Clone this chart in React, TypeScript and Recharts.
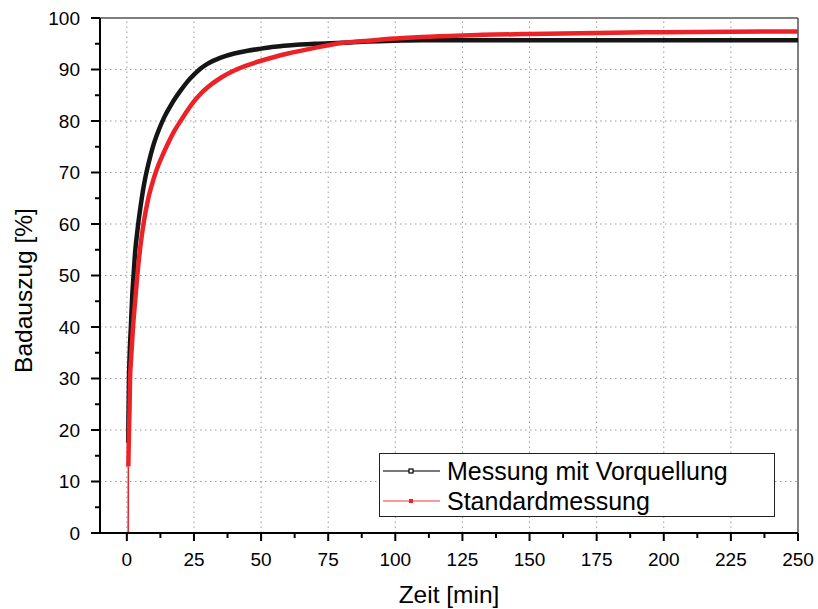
import { LineChart, Line, XAxis, YAxis, ReferenceLine, Legend, Label } from 'recharts'

// Messung mit Vorquellung (black)
const vorquellungZeit = [0.5, 0.6, 0.8, 1, 1.5, 2, 2.5, 3, 4, 5, 6, 7, 8, 10, 12, 14, 16, 18, 20, 22.5, 25, 27.5, 30, 35, 40, 45, 50, 55, 60, 70, 80, 90, 100, 110, 125, 150, 175, 200, 225, 250]
const vorquellungWert = [17.5, 22, 30, 34, 40, 46, 50, 54, 59, 63, 66.5, 69.3, 71.6, 75.5, 78.4, 80.8, 82.7, 84.4, 85.9, 87.6, 89, 90.2, 91.1, 92.3, 93.1, 93.65, 94.05, 94.4, 94.65, 95, 95.2, 95.45, 95.6, 95.7, 95.7, 95.7, 95.7, 95.7, 95.7, 95.7]

// Standardmessung (red)
const standardZeit = [0.55, 0.8, 1, 1.2, 1.6, 2.3, 3, 3.9, 5, 6.2, 8, 10, 11, 13, 15, 17.5, 20, 22.5, 25, 27.5, 30, 35, 40, 45, 50, 60, 70, 80, 90, 100, 110, 125, 150, 175, 200, 225, 250]
const standardWert = [12.9, 20, 24, 30, 34, 40, 44.5, 50, 55.5, 60, 65, 68.8, 70.4, 73, 75.3, 77.9, 80, 82, 83.8, 85.3, 86.5, 88.4, 89.8, 90.85, 91.7, 93.1, 94.2, 95.15, 95.6, 96, 96.3, 96.6, 96.9, 97.1, 97.25, 97.35, 97.4]
const standardStartZeit = [0.5, 0.55]
const standardStartWert = [0, 12.9]

const seriesNames = ['Messung mit Vorquellung', 'Standardmessung']

const xTicks = [0, 12.5, 25, 37.5, 50, 62.5, 75, 87.5, 100, 112.5, 125, 137.5, 150, 162.5, 175, 187.5, 200, 212.5, 225, 237.5, 250]
const xMajor = [0, 25, 50, 75, 100, 125, 150, 175, 200, 225, 250]
const yTicks = [0, 5, 10, 15, 20, 25, 30, 35, 40, 45, 50, 55, 60, 65, 70, 75, 80, 85, 90, 95, 100]
const xGrid = [0, 25, 50, 75, 100, 125, 150, 175, 200, 225]
const yGrid = [10, 20, 30, 40, 50, 60, 70, 80, 90]

const blackData = vorquellungZeit.map((t, i) => ({ t, v: vorquellungWert[i] }))
const redData = standardZeit.map((t, i) => ({ t, v: standardWert[i] }))
const redStart = standardStartZeit.map((t, i) => ({ t, v: standardStartWert[i] }))

const FONT = 'Liberation Sans, Arial, sans-serif'

function XTick(props: any) {
  const { x, y, payload } = props
  const major = xMajor.includes(payload.value)
  return (
    <g>
      <line x1={x} y1={y} x2={x} y2={y + (major ? 8 : 5)} stroke="#000" strokeWidth={2} />
      {major && (
        <text x={x} y={y + 33} textAnchor="middle" fontSize={19} fontFamily={FONT} fill="#000">
          {payload.value}
        </text>
      )}
    </g>
  )
}

function YTick(props: any) {
  const { x, y, payload } = props
  const major = payload.value % 10 === 0
  return (
    <g>
      <line x1={x} y1={y} x2={x - (major ? 9 : 5)} y2={y} stroke="#000" strokeWidth={2} />
      {major && (
        <text x={x - 20} y={y} dy="0.36em" textAnchor="end" fontSize={19} fontFamily={FONT} fill="#000">
          {payload.value}
        </text>
      )}
    </g>
  )
}

function LegendBox() {
  return (
    <div
      style={{
        width: 396,
        height: 64,
        boxSizing: 'border-box',
        border: '1.5px solid #222',
        background: '#fff',
        fontFamily: FONT,
        fontSize: 25,
        color: '#000',
        paddingTop: 2,
      }}
    >
      {seriesNames.map((name, i) => (
        <div key={name} style={{ display: 'flex', alignItems: 'center', height: 30 }}>
          <svg width={64} height={12} style={{ marginLeft: 3, flexShrink: 0 }}>
            {i === 0 ? (
              <>
                <line x1={0} y1={6} x2={57} y2={6} stroke="#777" strokeWidth={2} />
                <rect x={26} y={4} width={4} height={4} fill="#fff" stroke="#000" strokeWidth={1.2} />
              </>
            ) : (
              <>
                <line x1={0} y1={6} x2={57} y2={6} stroke="#f33" strokeWidth={1.2} />
                <rect x={26} y={4} width={4} height={4} fill="#e22" />
              </>
            )}
          </svg>
          <span style={{ lineHeight: '30px' }}>{name}</span>
        </div>
      ))}
    </div>
  )
}

export default function App() {
  return (
    <div style={{ position: 'absolute', left: 0, top: 0, background: '#fff' }}>
      <LineChart width={818} height={609} margin={{ top: 18, right: 20, bottom: 0, left: 0 }}>
        <XAxis
          type="number"
          dataKey="t"
          domain={[-10, 250]}
          ticks={xTicks}
          interval={0}
          allowDataOverflow
          height={76}
          tickSize={0}
          tickMargin={0}
          tickLine={false}
          axisLine={{ stroke: '#000', strokeWidth: 2 }}
          tick={<XTick />}
        >
          <Label
            content={({ viewBox }: any) => (
              <text
                x={viewBox.x + viewBox.width / 2}
                y={viewBox.y + 70}
                textAnchor="middle"
                fontSize={24.5}
                fontFamily={FONT}
                fill="#000"
              >
                Zeit [min]
              </text>
            )}
          />
        </XAxis>
        <YAxis
          type="number"
          dataKey="v"
          domain={[0, 100]}
          ticks={yTicks}
          interval={0}
          allowDataOverflow
          width={100}
          tickSize={0}
          tickMargin={0}
          tickLine={false}
          axisLine={{ stroke: '#000', strokeWidth: 2 }}
          tick={<YTick />}
        >
          <Label
            content={({ viewBox }: any) => {
              const cx = viewBox.x + 32
              const cy = viewBox.y + viewBox.height / 2 + 15
              return (
                <text
                  x={cx}
                  y={cy}
                  transform={`rotate(-90 ${cx} ${cy})`}
                  textAnchor="middle"
                  fontSize={24.5}
                  fontFamily={FONT}
                  fill="#000"
                >
                  Badauszug [%]
                </text>
              )
            }}
          />
        </YAxis>

        {xGrid.map((v) => (
          <ReferenceLine key={'gx' + v} x={v} stroke="#9a9a9a" strokeWidth={1} strokeDasharray="1.5 3.5" />
        ))}
        {yGrid.map((v) => (
          <ReferenceLine key={'gy' + v} y={v} stroke="#9a9a9a" strokeWidth={1} strokeDasharray="1.5 3.5" />
        ))}
        <ReferenceLine y={100} stroke="#555" strokeWidth={1.5} />
        <ReferenceLine x={250} stroke="#555" strokeWidth={1.5} />

        <Line
          data={blackData}
          dataKey="v"
          type="monotone"
          stroke="#151515"
          strokeWidth={4.5}
          dot={false}
          isAnimationActive={false}
          name={seriesNames[0]}
        />
        <Line
          data={redStart}
          dataKey="v"
          type="linear"
          stroke="#ec2227"
          strokeWidth={1.5}
          dot={false}
          isAnimationActive={false}
          legendType="none"
        />
        <Line
          data={redData}
          dataKey="v"
          type="monotone"
          stroke="#ec2227"
          strokeWidth={4.5}
          dot={false}
          isAnimationActive={false}
          name={seriesNames[1]}
        />

        <Legend
          layout="vertical"
          align="center"
          verticalAlign="middle"
          content={<LegendBox />}
          wrapperStyle={{ left: 379, top: 453, width: 396, height: 64 }}
        />
      </LineChart>
    </div>
  )
}
